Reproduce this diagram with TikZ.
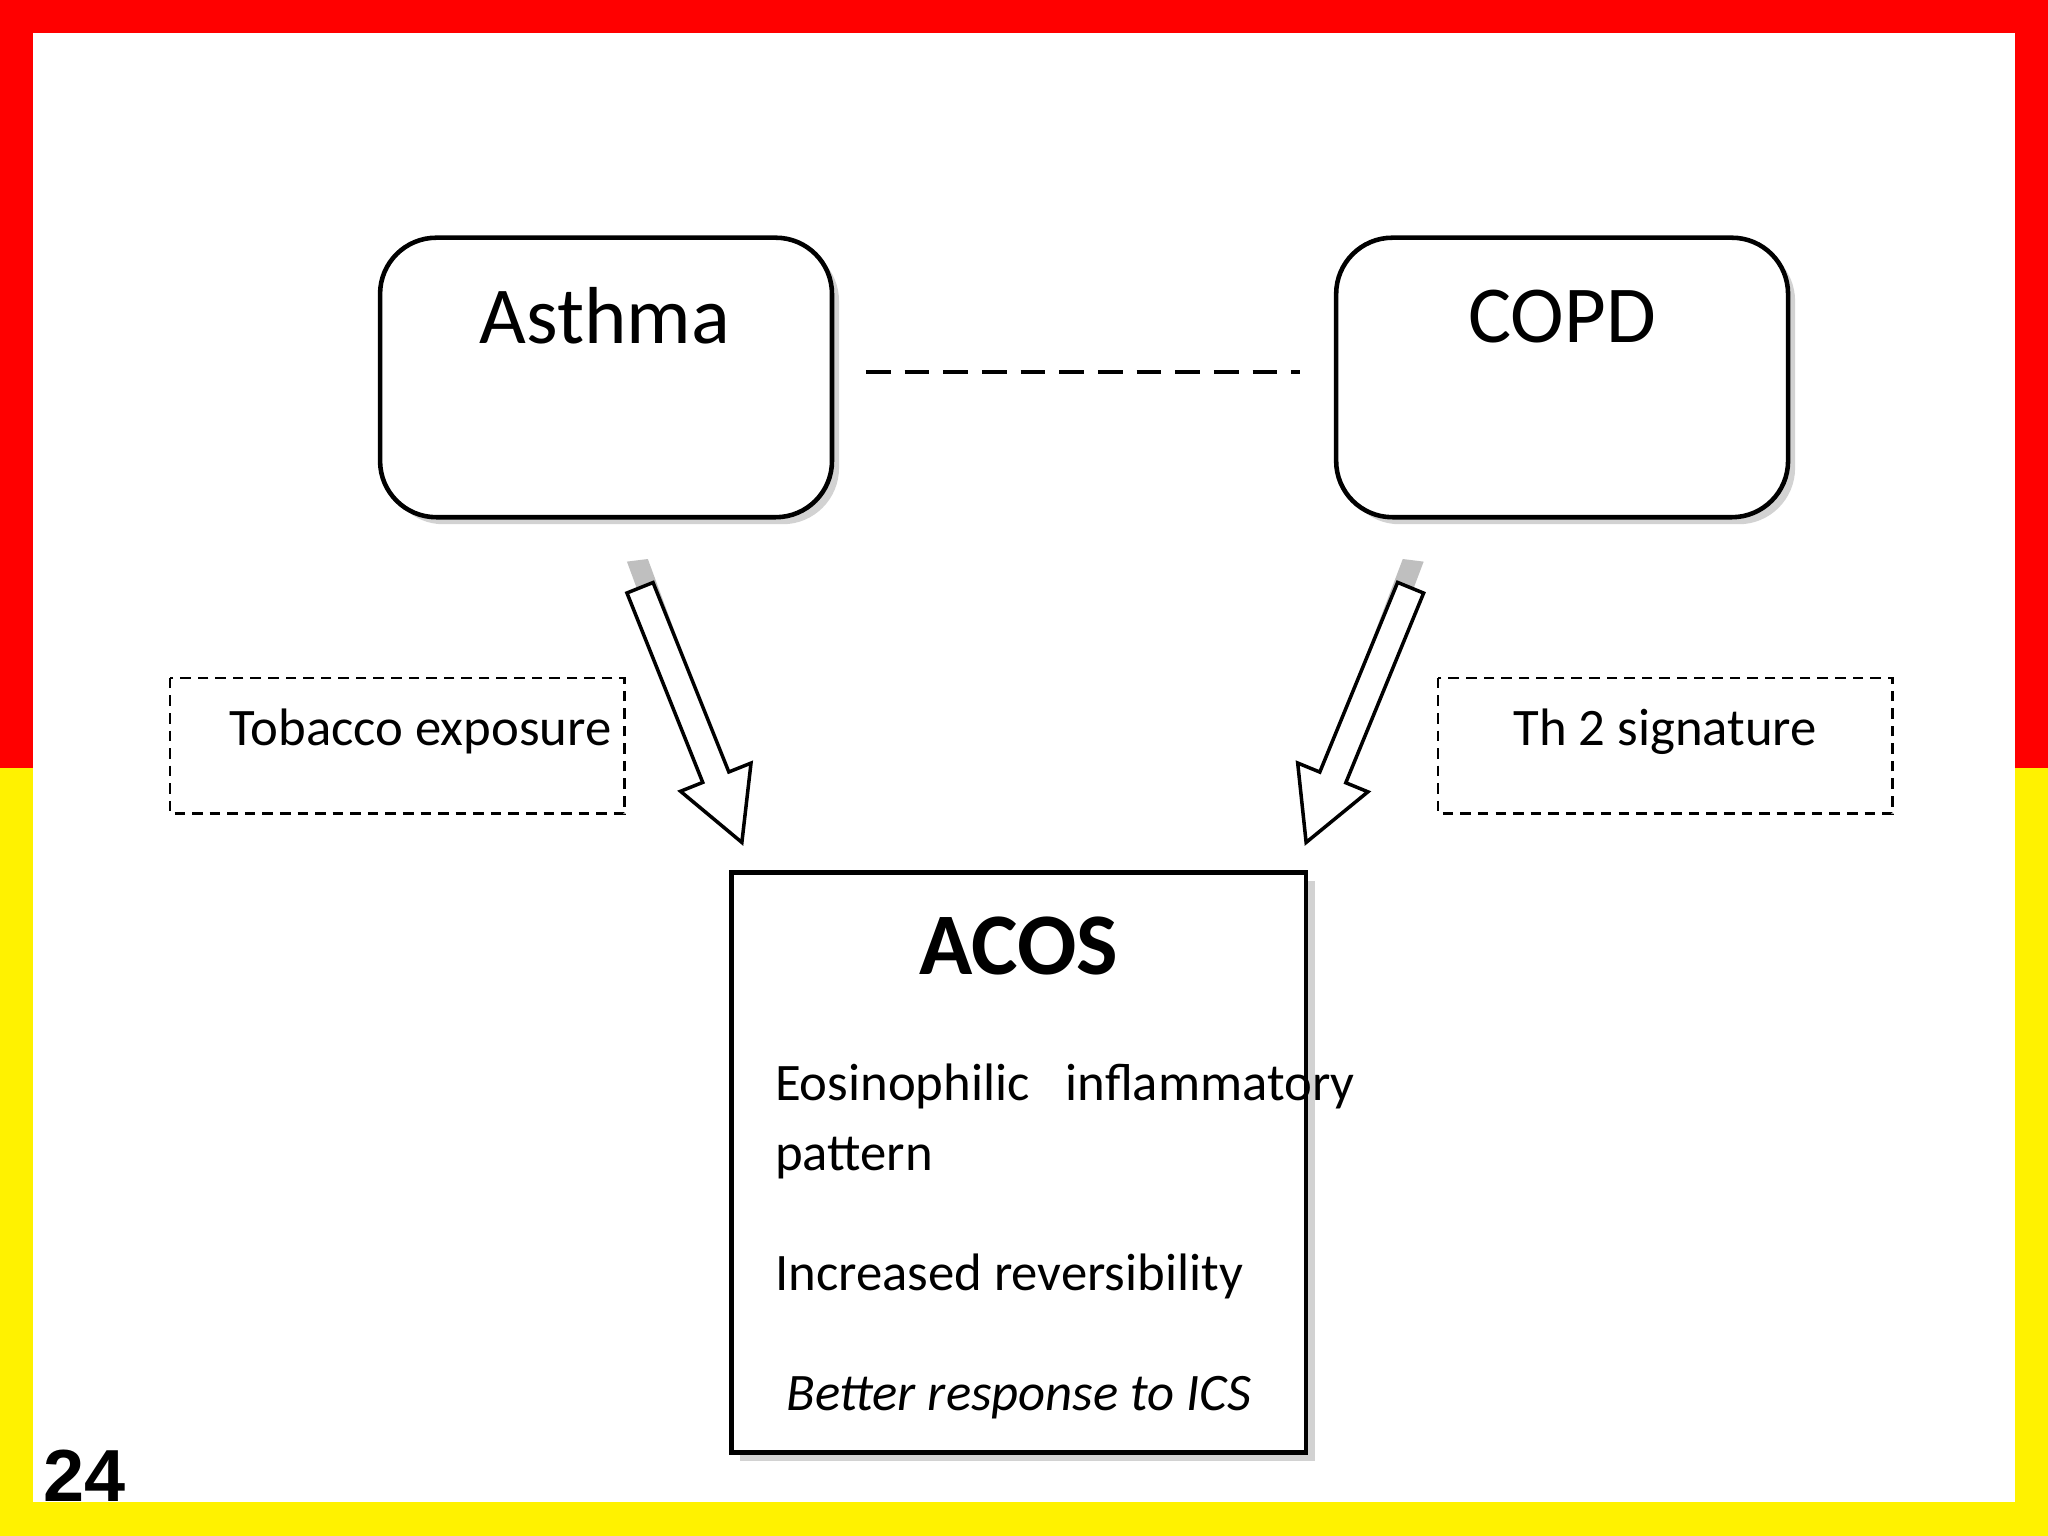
\documentclass[tikz,border=0pt]{standalone}
\usepackage{fontspec}
\setmainfont{Carlito}
\newfontfamily\arialf{Liberation Sans}
\usetikzlibrary{calc,shadows}
\begin{document}
\begin{tikzpicture}[x=0.01306cm,y=-0.01306cm,
  rbox/.style={draw,line width=1.3pt,rounded corners=16pt,fill=white,drop shadow={shadow xshift=2pt,shadow yshift=-2pt,fill=gray!70}},
  dbox/.style={draw,densely dashed,line width=0.7pt},
  lbl/.style={font=\fontsize{15}{18}\selectfont},
  arrowpoly/.style={draw,line width=1pt,fill=white}]
\useasboundingbox (0,0) rectangle (1568,1176);
\fill[yellow] (0,0) rectangle (1568,1176);
\fill[red] (0,0) rectangle (1568,588);
\fill[white] (25,25) rectangle (1543,1150);
% boxes
\path[rbox] (291,182) rectangle (637,396);
\path[rbox] (1023,182) rectangle (1369,396);
\node[font=\fontsize{23}{26}\selectfont] (asthma) at (463,242) {Asthma};
\node[font=\fontsize{23}{26}\selectfont] (copd) at (1196,242) {COPD};
\coordinate (d1) at (663,285); \coordinate (d2) at (995,285);
\draw[dashed,line width=1.2pt,dash pattern=on 7pt off 4pt] (d1) -- (d2);
\draw[dbox] (130,519) rectangle (478,623);
\node[lbl] (tob) at (322,560) {Tobacco exposure};
\draw[dbox] (1101,519) rectangle (1449,623);
\node[lbl] (th2) at (1275,560) {Th 2 signature};
% ACOS
\draw[line width=1.3pt,fill=white,drop shadow={shadow xshift=2.5pt,shadow yshift=-2.5pt,fill=gray!70}] (560,668) rectangle (1000,1112);
\node[font=\bfseries\fontsize{25}{28}\selectfont] (acos) at (780,724) {ACOS};
\node[lbl,anchor=west] (e1) at (584,832) {Eosinophilic\ \ \ inflammatory};
\node[lbl,anchor=west] (e2) at (584,887) {pattern};
\node[lbl,anchor=west] (e3) at (584,977) {Increased reversibility};
\node[lbl,font=\itshape\fontsize{15}{18}\selectfont] (e4) at (780,1070) {Better response to ICS};
% arrows
\foreach \ax/\ay/\bx/\by/\sx in {490/450/568/645/-1, 1080/450/1000/645/1}{
  \coordinate (A) at (\ax,\ay); \coordinate (B) at (\bx,\by);
  \coordinate (H) at ($(B)!20pt!(A)$);
  \fill[gray!50] ($(A)+(\sx*10,-20)$) -- ($(A)+(\sx*-6,-22)$) -- ($(H)+(\sx*-6,-10)$) -- ($(H)+(\sx*10,-8)$) -- cycle;
  \draw[arrowpoly] ($(A)!4pt!90:(B)$) -- ($(H)!4pt!-90:(A)$) -- ($(H)!10.8pt!-90:(A)$) -- (B)
     -- ($(H)!10.8pt!90:(A)$) -- ($(H)!4pt!90:(A)$) -- ($(A)!4pt!-90:(B)$) -- cycle;
}
\node[font=\arialf\bfseries\fontsize{21}{24}\selectfont] (num) at (65,1130) {24};
\end{tikzpicture}
\end{document}
